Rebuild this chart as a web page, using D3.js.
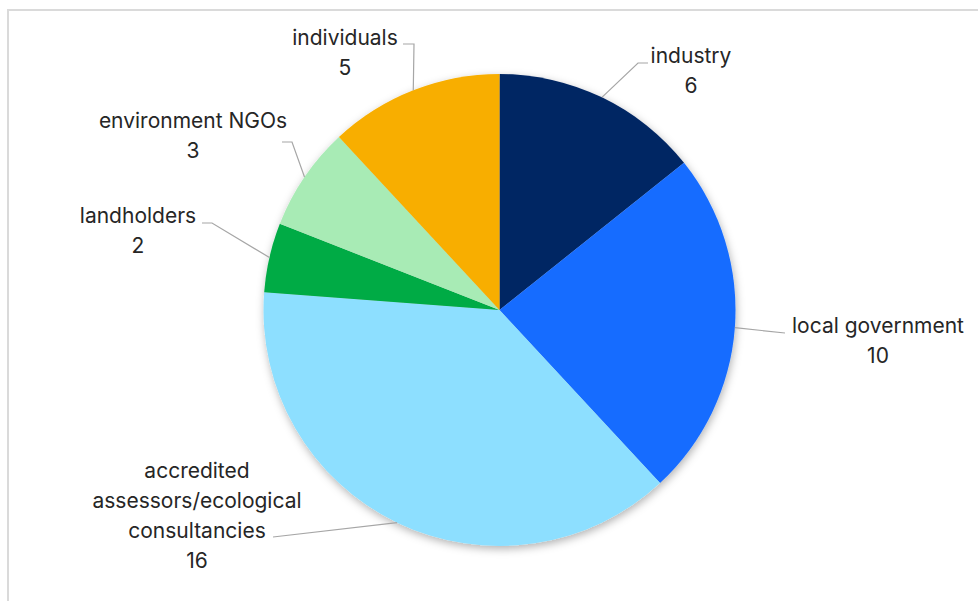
<!DOCTYPE html>
<html>
<head>
<meta charset="utf-8">
<script src="https://cdn.jsdelivr.net/npm/d3@7"></script>
<style>
  body { margin: 0; background: #ffffff; }
  svg { display: block; }
  text { font-family: Inter, 'Noto Sans', sans-serif; fill: #262626; }
</style>
</head>
<body>
<svg class="chart"></svg>
<script>
// data
const categories = ['industry', 'local government', 'accredited assessors/ecological consultancies',
  'landholders', 'environment NGOs', 'individuals']
const values = [6, 10, 16, 2, 3, 5]
const labelLines = [
  ['industry'],
  ['local government'],
  ['accredited', 'assessors/ecological', 'consultancies'],
  ['landholders'],
  ['environment NGOs'],
  ['individuals']
]
const sliceColors = ['#002663', '#176cff', '#8ddfff', '#00ab45', '#a8ebb5', '#f8ae00']

// label layout: text centre x, first baseline y, leader elbow + end point
const labelLayout = [
  { x: 691, y: 63, elbow: [638, 63], end: [648, 63] },
  { x: 878, y: 333, elbow: [785, 333], end: [785, 333] },
  { x: 197, y: 478, elbow: [273, 537], end: [273, 537] },
  { x: 138, y: 223, elbow: [212, 223], end: [202, 223] },
  { x: 193, y: 128, elbow: [292, 142], end: [282, 142] },
  { x: 345, y: 45, elbow: [414, 44], end: [403, 44] }
]

const width = 978
const height = 601
const cx = 499.5
const cy = 310
const radius = 236
const lineHeight = 30

const svg = d3.select('.chart').attr('width', width).attr('height', height)

// frame
svg.append('path')
  .attr('d', `M 8 ${height} L 8 10 L ${width} 10`)
  .attr('stroke', '#dadada')
  .attr('stroke-width', 2)
  .attr('fill', 'none')

const defs = svg.append('defs')
const filt = defs.append('filter').attr('id', 'shadow')
  .attr('x', '-10%').attr('y', '-10%').attr('width', '120%').attr('height', '120%')
filt.append('feDropShadow')
  .attr('dx', 1).attr('dy', 3).attr('stdDeviation', 4)
  .attr('flood-color', '#000').attr('flood-opacity', 0.3)

const pie = d3.pie().sort(null).value(d => d)
const arcs = pie(values)
const arc = d3.arc().innerRadius(0).outerRadius(radius)

const g = svg.append('g').attr('transform', `translate(${cx},${cy})`)

g.append('g').attr('filter', 'url(#shadow)')
  .selectAll('path')
  .data(arcs)
  .enter()
  .append('path')
  .attr('d', arc)
  .attr('fill', (d, i) => sliceColors[i])

// leader lines: from the arc edge at the slice middle to the label
svg.append('g')
  .selectAll('path')
  .data(arcs)
  .enter()
  .append('path')
  .attr('d', function(d, i) {
    const a = (d.startAngle + d.endAngle) / 2
    const px = cx + radius * Math.sin(a)
    const py = cy - radius * Math.cos(a)
    const L = labelLayout[i]
    return `M ${px} ${py} L ${L.elbow[0]} ${L.elbow[1]} L ${L.end[0]} ${L.end[1]}`
  })
  .attr('stroke', '#a6a6a6')
  .attr('stroke-width', 1.2)
  .attr('fill', 'none')

const labels = svg.append('g')
  .selectAll('text')
  .data(arcs)
  .enter()
  .append('text')
  .attr('text-anchor', 'middle')
  .style('font-size', '21px')

labels.each(function(d, i) {
  const t = d3.select(this)
  const L = labelLayout[i]
  const lines = labelLines[i].concat([String(values[i])])
  lines.forEach(function(s, k) {
    t.append('tspan')
      .attr('x', L.x)
      .attr('y', L.y + k * lineHeight)
      .text(s)
  })
})
</script>
</body>
</html>
